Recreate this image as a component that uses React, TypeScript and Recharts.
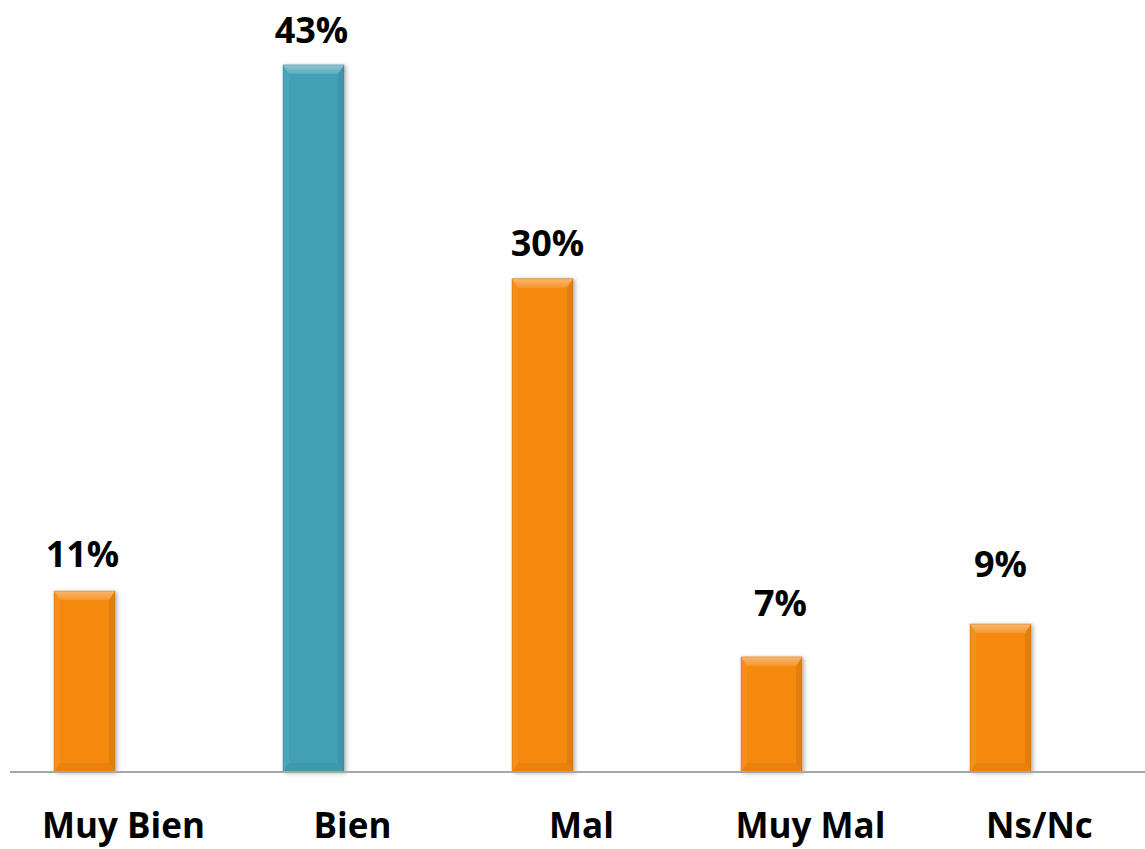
import React from "react";
import { BarChart, Bar, XAxis, YAxis, LabelList, Cell } from "recharts";

const categories = ["Muy Bien", "Bien", "Mal", "Muy Mal", "Ns/Nc"];
const values = [11, 43, 30, 7, 9];
const valueLabels = ["11%", "43%", "30%", "7%", "9%"];

const barColors = ["#F5890F", "#42A0B6", "#F5890F", "#F5890F", "#F5890F"];
const labelDx = [-2, -2, 5, 9, 0];
const labelGap = [24, 22, 23, 41, 47];

const data = categories.map((c, i) => ({ name: c, value: values[i], label: valueLabels[i], color: barColors[i] }));

const FONT = "'Open Sans', sans-serif";

function shade(hex: string, amt: number) {
  const n = parseInt(hex.slice(1), 16);
  const r = (n >> 16) & 255, g = (n >> 8) & 255, b = n & 255;
  const f = (v: number) => {
    const o = amt >= 0 ? v + (255 - v) * amt : v * (1 + amt);
    return Math.max(0, Math.min(255, Math.round(o)));
  };
  return `rgb(${f(r)},${f(g)},${f(b)})`;
}

const BevelBar = (props: any) => {
  const { x, y, width: w, height: h, payload, index } = props;
  if (!h || h <= 0) return null;
  const c = payload.color;
  const b = Math.min(9, h / 2);
  const s = 6;
  const gid = `topg${index}`;
  return (
    <g filter="url(#barShadow)">
      <defs>
        <linearGradient id={gid} x1="0" y1="0" x2="0" y2="1">
          <stop offset="0%" stopColor={shade(c, 0.4)} />
          <stop offset="100%" stopColor={shade(c, 0.12)} />
        </linearGradient>
      </defs>
      <rect x={x} y={y} width={w} height={h} fill={c} />
      <polygon points={`${x},${y} ${x + s},${y + b} ${x + s},${y + h - b} ${x},${y + h}`} fill={shade(c, 0.05)} />
      <polygon points={`${x + w},${y} ${x + w - s},${y + b} ${x + w - s},${y + h - b} ${x + w},${y + h}`} fill={shade(c, -0.08)} />
      <polygon points={`${x},${y + h} ${x + s},${y + h - b} ${x + w - s},${y + h - b} ${x + w},${y + h}`} fill={shade(c, -0.05)} />
      <polygon points={`${x},${y} ${x + w},${y} ${x + w - s},${y + b} ${x + s},${y + b}`} fill={`url(#${gid})`} />
      <rect x={x} y={y} width={w} height={h} fill="none" stroke={shade(c, -0.25)} strokeWidth={1} strokeOpacity={0.4} />
    </g>
  );
};

const ValueLabel = (props: any) => {
  const { x, y, width, index, value } = props;
  return (
    <text
      x={x + width / 2 + labelDx[index]}
      y={y - labelGap[index]}
      textAnchor="middle"
      fontFamily={FONT}
      fontWeight={700}
      fontSize={36}
      fill="#000"
    >
      {value}
    </text>
  );
};

const CatTick = (props: any) => {
  const { x, payload } = props;
  return (
    <text x={x + 39} y={838} textAnchor="middle" fontFamily={FONT} fontWeight={700} fontSize={35} fill="#000">
      {payload.value}
    </text>
  );
};

export default function App() {
  return (
    <div style={{ position: "absolute", left: 0, top: 0, width: 1145, height: 849, background: "#fff", overflow: "hidden" }}>
      <BarChart
        width={1145}
        height={849}
        data={data}
        margin={{ top: 32, right: 0, bottom: 0, left: 10 }}
        barSize={61}
      >
        <defs>
          <filter id="barShadow" x="-20%" y="-5%" width="140%" height="110%">
            <feDropShadow dx="2" dy="1" stdDeviation="2" floodColor="#000" floodOpacity="0.3" />
          </filter>
        </defs>
        <XAxis
          dataKey="name"
          height={77}
          padding={{ left: -40, right: 30 }}
          axisLine={{ stroke: "#A6A6A6", strokeWidth: 2 }}
          tickLine={false}
          tick={<CatTick />}
          interval={0}
        />
        <YAxis hide domain={[0, 45]} />
        <Bar dataKey="value" shape={<BevelBar />} isAnimationActive={false}>
          {data.map((d, i) => (
            <Cell key={i} fill={d.color} />
          ))}
          <LabelList dataKey="label" content={<ValueLabel />} />
        </Bar>
      </BarChart>
    </div>
  );
}
